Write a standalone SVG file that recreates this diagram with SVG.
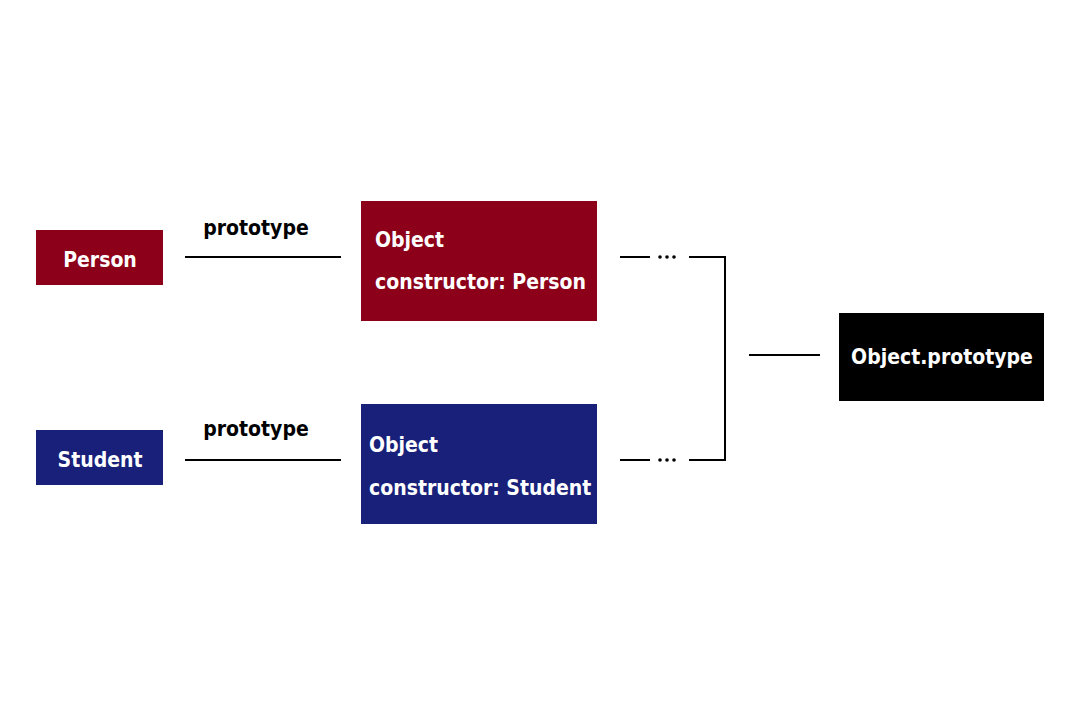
<svg xmlns="http://www.w3.org/2000/svg" width="1080" height="720" viewBox="0 0 1080 720">
<style>
.t{font-family:"DejaVu Sans Condensed","DejaVu Sans","Liberation Sans",sans-serif;font-stretch:condensed;font-weight:bold;font-size:21px}
.w{fill:#ffffff}
.k{fill:#000000}
.red{fill:#8c0019}
.blue{fill:#18207a}
.ln{stroke:#000;stroke-width:2;fill:none}
</style>
<rect width="1080" height="720" fill="#fff"/>
<g id="person">
<rect class="red" x="36" y="230" width="127" height="55"/>
<text class="t w" x="100" y="267" text-anchor="middle">Person</text>
</g>
<g id="person-proto">
<rect class="red" x="361" y="201" width="236" height="120"/>
<text class="t w" x="375" y="247">Object</text>
<text class="t w" x="375" y="289">constructor: Person</text>
</g>
<g id="student">
<rect class="blue" x="36" y="430" width="127" height="55"/>
<text class="t w" x="100" y="467" text-anchor="middle">Student</text>
</g>
<g id="student-proto">
<rect class="blue" x="361" y="404" width="236" height="120"/>
<text class="t w" x="369" y="452">Object</text>
<text class="t w" x="369" y="495">constructor: Student</text>
</g>
<g id="object-prototype">
<rect fill="#000" x="839" y="313" width="205" height="88"/>
<text class="t w" x="942" y="364" text-anchor="middle">Object.prototype</text>
</g>
<g id="connectors">
<path class="ln" d="M185 257H341M185 460H341M620 257H650M689 257H725V460H689M620 460H650M749 355H820"/>
<text class="t k" x="256" y="235" text-anchor="middle">prototype</text>
<text class="t k" x="256" y="436" text-anchor="middle">prototype</text>
<g fill="#000">
<circle cx="660" cy="257" r="1.8"/><circle cx="667" cy="257" r="1.8"/><circle cx="674" cy="257" r="1.8"/>
<circle cx="660" cy="460" r="1.8"/><circle cx="667" cy="460" r="1.8"/><circle cx="674" cy="460" r="1.8"/>
</g>
</g>
</svg>
